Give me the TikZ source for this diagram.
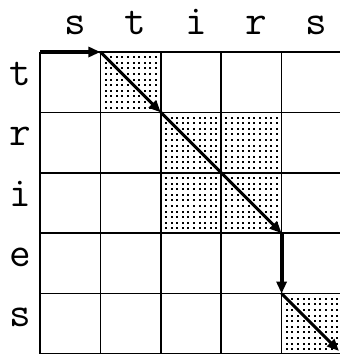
\documentclass[tikz,border=0pt]{standalone}
\usetikzlibrary{arrows.meta}
\begin{document}
\begin{tikzpicture}[x=1pt,y=-1pt,
  gridline/.style={line width=1.6pt,black},
  pathedge/.style={line width=3pt,-{Triangle[length=12pt,width=10pt]}},
  pathbold/.style={line width=4pt,-{Triangle[length=12pt,width=10pt]}},
  lbl/.style={font=\ttfamily\fontsize{42}{42}\selectfont,inner sep=0pt,anchor=base}]
\useasboundingbox (0,0) rectangle (340,354);
\def\cs{60.4}
% dotted cells
\foreach \r/\c in {0/1,1/2,1/3,2/2,2/3,4/4}{
  \foreach \i in {0,...,9}{
    \foreach \j in {0,...,9}{
      \fill ({40+\c*\cs+5.2+\i*5.6-1},{52+\r*\cs+5.2+\j*5.6-1}) rectangle ++(2,2);
    }
  }
}
% grid
\foreach \k in {0,...,5}{
  \draw[gridline] ({40+\k*\cs},52) -- ({40+\k*\cs},{52+5*\cs});
  \draw[gridline] (40,{52+\k*\cs}) -- ({40+5*\cs},{52+\k*\cs});
}
% labels
\foreach \ch [count=\n from 0] in {s,t,i,r,s}{
  \node[lbl] (top\n) at ({40+\n*\cs+\cs/2+5},34) {\ch};
}
\foreach \ch [count=\n from 0] in {t,r,i,e,s}{
  \node[lbl] (left\n) at (20,{52+\n*\cs+\cs/2+3}) {\ch};
}
% path
\coordinate (p0) at (40,52);
\coordinate (p1) at ({40+\cs},52);
\coordinate (p2) at ({40+2*\cs},{52+\cs});
\coordinate (p3) at ({40+4*\cs},{52+3*\cs});
\coordinate (p4) at ({40+4*\cs},{52+4*\cs});
\coordinate (p5) at ({40+5*\cs-3},{52+5*\cs-3});
\draw[pathbold] (p0) -- (p1);
\draw[pathedge] (p1) -- (p2);
\draw[pathedge] (p2) -- (p3);
\draw[pathbold] (p3) -- (p4);
\draw[pathedge] (p4) -- (p5);
\end{tikzpicture}
\end{document}
